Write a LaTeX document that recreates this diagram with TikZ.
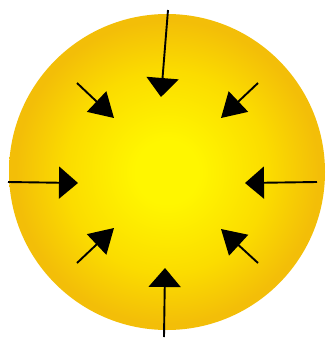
\documentclass[tikz,border=0pt]{standalone}
\usetikzlibrary{arrows.meta}
\definecolor{sunctr}{RGB}{255,246,0}
\definecolor{sunmid}{RGB}{251,220,0}
\definecolor{sunedge}{RGB}{243,190,8}
\pgfdeclareradialshading{sunshade}{\pgfpoint{0bp}{0bp}}{color(0bp)=(sunctr); color(5bp)=(sunctr); color(16bp)=(sunmid); color(24bp)=(sunedge); color(50bp)=(sunedge)}
\begin{document}
\begin{tikzpicture}[x=1pt,y=-1pt,
  push/.style={line width=1.9pt, -{Triangle[width=32pt,length=19pt]}},
  pushd/.style={line width=1.9pt, -{Triangle[width=28pt,length=24pt]}}]
\useasboundingbox (0,0) rectangle (327,338);
\fill[white] (0,0) rectangle (327,338);
\shade[shading=sunshade] (167,172) circle[radius=158];
% arrow end points
\coordinate (tS) at (168,10);   \coordinate (tE) at (161,97);
\coordinate (bS) at (164,337);  \coordinate (bE) at (165,268);
\coordinate (lS) at (8,182);    \coordinate (lE) at (78,183);
\coordinate (rS) at (317,182);  \coordinate (rE) at (245,183);
\coordinate (ulS) at (77,83);   \coordinate (ulE) at (114,118);
\coordinate (urS) at (258,83);  \coordinate (urE) at (221,118);
\coordinate (llS) at (77,263);  \coordinate (llE) at (114,228);
\coordinate (lrS) at (258,263); \coordinate (lrE) at (221,229);
\draw[push] (tS) -- (tE);
\draw[push] (bS) -- (bE);
\draw[push] (lS) -- (lE);
\draw[push] (rS) -- (rE);
\draw[pushd] (ulS) -- (ulE);
\draw[pushd] (urS) -- (urE);
\draw[pushd] (llS) -- (llE);
\draw[pushd] (lrS) -- (lrE);
\end{tikzpicture}
\end{document}
